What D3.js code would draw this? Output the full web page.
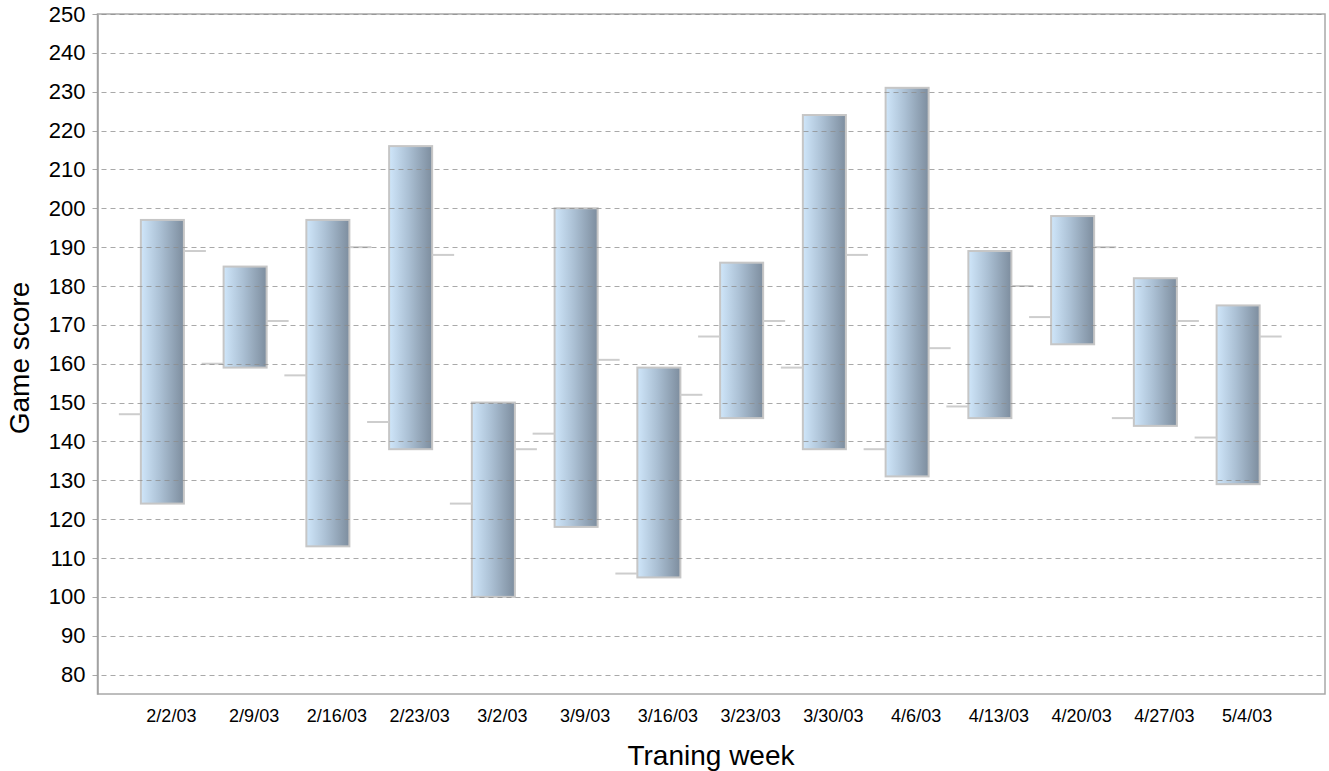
<!DOCTYPE html>
<html>
<head>
<meta charset="utf-8">
<script src="https://cdn.jsdelivr.net/npm/d3@7"></script>
<style>
    body { margin: 0; background: #fff; }
    svg text { font-family: "Liberation Sans", Arial, sans-serif; fill: #000; }
</style>
</head>
<body>
<div id="chart"></div>
<script>
(function(){
    "use strict";

    //==========================================================================================
    // Data
    //==========================================================================================
    var weeks  = ["2/2/03", "2/9/03", "2/16/03", "2/23/03", "3/2/03", "3/9/03", "3/16/03",
                  "3/23/03", "3/30/03", "4/6/03", "4/13/03", "4/20/03", "4/27/03", "5/4/03"];
    var highs  = [197, 185, 197, 216, 150, 200, 159, 186, 224, 231, 189, 198, 182, 175];
    var lows   = [124, 159, 113, 138, 100, 118, 105, 146, 138, 131, 146, 165, 144, 129];
    var opens  = [147, 160, 157, 145, 124, 142, 106, 167, 159, 138, 149, 172, 146, 141];
    var closes = [189, 171, 190, 188, 138, 161, 152, 171, 188, 164, 180, 190, 171, 167];
    var yTicks = d3.range(80, 251, 10);

    //==========================================================================================
    // Layout
    //==========================================================================================
    var width = 1329, height = 771;
    var plot = { left: 97.5, right: 1325, top: 14, bottom: 694 };

    var svg = d3.select("#chart").append("svg")
        .attr("width", width)
        .attr("height", height);

    var x = d3.scaleBand()
        .domain(weeks)
        .range([121, 1279.5])
        .padding(0);

    var y = d3.scaleLinear()
        .domain([75, 250])
        .range([plot.bottom, plot.top]);

    var bw = x.bandwidth();
    var barW = bw * 0.52;
    var tickLen = 22;

    // gradient for the bars
    var grad = svg.append("defs").append("linearGradient")
        .attr("id", "barGrad")
        .attr("x1", "0%").attr("x2", "100%").attr("y1", "0%").attr("y2", "0%");
    grad.append("stop").attr("offset", "0%").attr("stop-color", "#cfe6fa");
    grad.append("stop").attr("offset", "45%").attr("stop-color", "#abc0d4");
    grad.append("stop").attr("offset", "100%").attr("stop-color", "#7d8d9e");

    //------------------------------------------------------------------------------------------
    // Plot frame
    //------------------------------------------------------------------------------------------
    svg.append("rect")
        .attr("x", plot.left)
        .attr("y", plot.top)
        .attr("width", plot.right - plot.left)
        .attr("height", plot.bottom - plot.top)
        .attr("fill", "none")
        .attr("stroke", "#a8a8a8")
        .attr("stroke-width", 1.5);

    //------------------------------------------------------------------------------------------
    // Bars (high-low) and open/close ticks
    //------------------------------------------------------------------------------------------
    var data = weeks.map(function(w, i) {
        return { week: w, high: highs[i], low: lows[i], open: opens[i], close: closes[i] };
    });

    var item = svg.selectAll(".item")
        .data(data)
        .enter()
        .append("g")
        .attr("class", "item");

    item.append("rect")
        .attr("x", function(d) { return x(d.week) + bw / 2 - barW / 2; })
        .attr("y", function(d) { return y(d.high); })
        .attr("width", barW)
        .attr("height", function(d) { return y(d.low) - y(d.high); })
        .attr("fill", "url(#barGrad)")
        .attr("stroke", "#c6c6c6")
        .attr("stroke-width", 2);

    item.append("line")
        .attr("x1", function(d) { return x(d.week) + bw / 2 - barW / 2 - tickLen; })
        .attr("x2", function(d) { return x(d.week) + bw / 2 - barW / 2; })
        .attr("y1", function(d) { return y(d.open); })
        .attr("y2", function(d) { return y(d.open); })
        .attr("stroke", "#cdcdcd")
        .attr("stroke-width", 2);

    item.append("line")
        .attr("x1", function(d) { return x(d.week) + bw / 2 + barW / 2; })
        .attr("x2", function(d) { return x(d.week) + bw / 2 + barW / 2 + tickLen; })
        .attr("y1", function(d) { return y(d.close); })
        .attr("y2", function(d) { return y(d.close); })
        .attr("stroke", "#cdcdcd")
        .attr("stroke-width", 2);

    //------------------------------------------------------------------------------------------
    // Grid lines (drawn over the bars, as in the original)
    //------------------------------------------------------------------------------------------
    svg.append("g")
        .selectAll("line")
        .data(yTicks)
        .enter()
        .append("line")
        .attr("x1", plot.left - 5)
        .attr("x2", plot.right)
        .attr("y1", function(d) { return Math.round(y(d)) + 0.5; })
        .attr("y2", function(d) { return Math.round(y(d)) + 0.5; })
        .attr("stroke", "#8c8c8c")
        .attr("stroke-opacity", 0.75)
        .attr("stroke-dasharray", "5,4");

    //------------------------------------------------------------------------------------------
    // Axes
    //------------------------------------------------------------------------------------------
    var yAxis = svg.append("g")
        .attr("transform", "translate(" + plot.left + ",0)")
        .call(d3.axisLeft(y).tickValues(yTicks).tickSize(0).tickPadding(12));
    yAxis.select(".domain").attr("stroke", "#a0a0a0").attr("stroke-width", 1.5);
    yAxis.selectAll("text")
        .attr("font-size", "22px")
        .attr("font-family", "Liberation Sans, Arial, sans-serif")
        .attr("fill", "#000");

    var xAxis = svg.append("g")
        .attr("transform", "translate(9," + plot.bottom + ")")
        .call(d3.axisBottom(x).tickSize(0).tickPadding(15));
    xAxis.select(".domain").remove();
    xAxis.selectAll("text")
        .attr("font-size", "18px")
        .attr("font-family", "Liberation Sans, Arial, sans-serif")
        .attr("fill", "#000");

    // axis titles
    svg.append("text")
        .attr("x", 711)
        .attr("y", 765)
        .attr("text-anchor", "middle")
        .attr("font-size", "28px")
        .text("Traning week");

    svg.append("text")
        .attr("transform", "translate(29,358) rotate(-90)")
        .attr("text-anchor", "middle")
        .attr("font-size", "28px")
        .text("Game score");

})();
</script>
</body>
</html>
